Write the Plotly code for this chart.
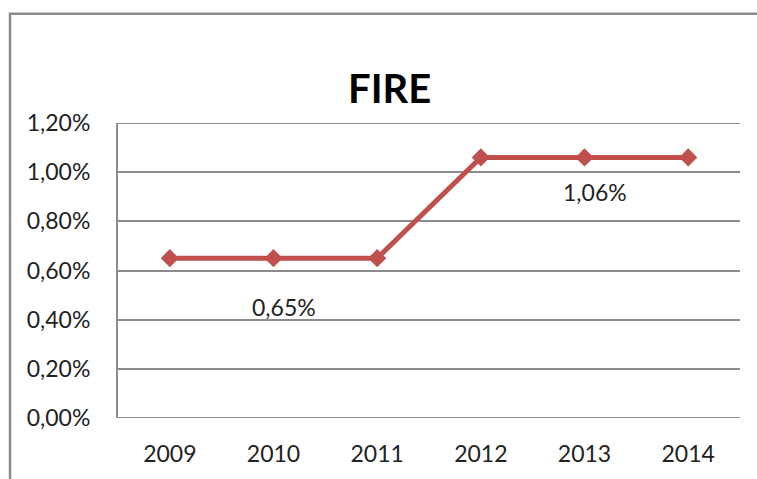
import plotly.graph_objects as go

years = ["2009", "2010", "2011", "2012", "2013", "2014"]
values = [0.0065, 0.0065, 0.0065, 0.0106, 0.0106, 0.0106]
label_years = ["2010", "2013"]
label_values = [0.0065, 0.0106]
label_shifts = [-49, -35]
title_text = "FIRE"
y_ticks = [0, 0.002, 0.004, 0.006, 0.008, 0.010, 0.012]

font_family = "Lato, 'Open Sans', sans-serif"
line_color = "#C0504D"
grid_color = "#8C8C8C"

fig = go.Figure()
fig.add_trace(go.Scatter(
    x=years, y=values, mode="lines+markers",
    line=dict(color=line_color, width=5),
    marker=dict(symbol="diamond", size=14, color=line_color),
    showlegend=False, cliponaxis=False,
))

for ly, lv, sh in zip(label_years, label_values, label_shifts):
    fig.add_annotation(x=years.index(ly), y=lv, xref="x", yref="y",
                       text=f"{lv*100:.2f}%".replace(".", ","),
                       showarrow=False, yshift=sh, xshift=10,
                       font=dict(family=font_family, size=23, color="#222"))

fig.add_annotation(x=(389 - 118) / 622, y=(420 - 62) / 297, xref="paper", yref="paper",
                   text=f"<b>{title_text}</b>", showarrow=False,
                   font=dict(family=font_family, size=40, color="#000"))

# outer chart border
fig.add_shape(type="rect", xref="paper", yref="paper",
              x0=-0.1736, y0=-0.5, x1=1.2, y1=1.3704,
              line=dict(color="#8A8A8A", width=2.5), layer="below")

fig.update_layout(
    width=757, height=479,
    margin=dict(l=118, r=17, t=123, b=59),
    paper_bgcolor="white", plot_bgcolor="white",
    separators=", ",
    font=dict(family=font_family, size=23, color="#222"),
    xaxis=dict(type="category", range=[-0.5, 5.5], showgrid=False, zeroline=False,
               showline=False, ticks="", ticklabelstandoff=20,
               tickfont=dict(size=23)),
    yaxis=dict(range=[0, 0.012], tickvals=y_ticks,
               tickformat=".2%", showgrid=True, gridcolor=grid_color, gridwidth=2,
               zeroline=False, showline=True, linecolor=grid_color, linewidth=2,
               ticks="", ticklabelstandoff=21, tickfont=dict(size=23)),
)
for yv in (y_ticks[0], y_ticks[-1]):
    fig.add_shape(type="line", xref="paper", yref="y", x0=0, x1=1, y0=yv, y1=yv,
                  line=dict(color=grid_color, width=2), layer="below")

fig.write_html("out.html")
